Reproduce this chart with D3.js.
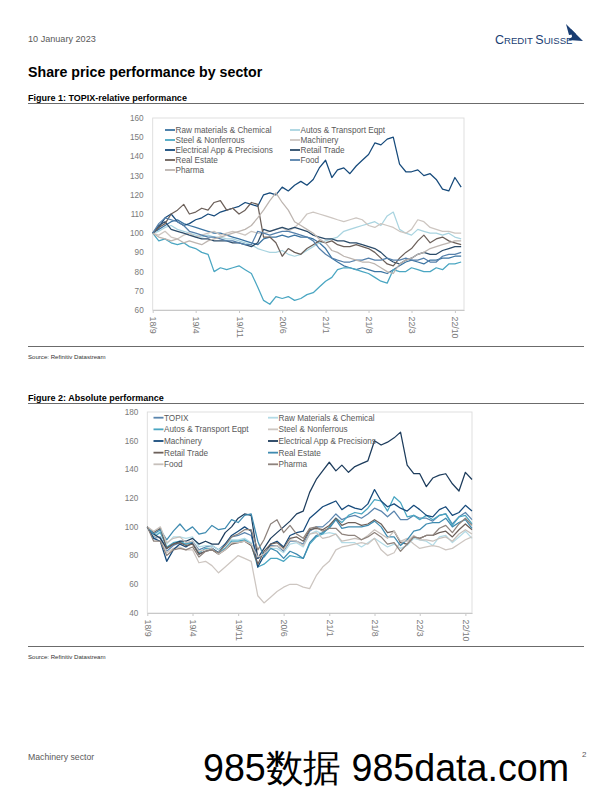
<!DOCTYPE html>
<html><head><meta charset="utf-8">
<script src="https://cdn.jsdelivr.net/npm/d3@7"></script>
<style>
body{margin:0;background:#fff}
svg{display:block}
text{font-family:"Liberation Sans",Arial,Helvetica,sans-serif}
</style></head>
<body><svg id="page" width="612" height="792"></svg>
<script>
// ---------- categories (monthly dates) ----------
const dates = ["2018-09","2018-10","2018-11","2018-12",
"2019-01","2019-02","2019-03","2019-04","2019-05","2019-06","2019-07","2019-08","2019-09","2019-10","2019-11","2019-12",
"2020-01","2020-02","2020-03","2020-04","2020-05","2020-06","2020-07","2020-08","2020-09","2020-10","2020-11","2020-12",
"2021-01","2021-02","2021-03","2021-04","2021-05","2021-06","2021-07","2021-08","2021-09","2021-10","2021-11","2021-12",
"2022-01","2022-02","2022-03","2022-04","2022-05","2022-06","2022-07","2022-08","2022-09","2022-10","2022-11"];
const xTickDates  = ["2018-09","2019-04","2019-11","2020-06","2021-01","2021-08","2022-03","2022-10"];
const xTickLabels = ["18/9","19/4","19/11","20/6","21/1","21/8","22/3","22/10"];

// ---------- Figure 1: TOPIX-relative ----------
const fig1Names = ["Raw materials & Chemical","Autos & Transport Eqpt","Steel & Nonferrous","Machinery",
  "Electrical App & Precisions","Retail Trade","Real Estate","Food","Pharma"];
const relRaw    = [100,102,104,106,107,105,104,103,102,101,100,100,99,98,97,96,95,94,97,98,98,99,98,99,98,98,97,95,92,87,85,83,82,81,82,81,80,80,79,81,83,85,86,85,84,86,86,87,87,88,88];
const relAutos  = [100,101,103,104,102,101,100,99,98,99,98,98,97,97,96,95,94,92,91,90,90,91,89,88,89,91,93,95,96,97,98,101,102,103,104,105,106,104,109,111,102,100,99,102,101,100,100,99,100,98,97];
const relSteel  = [100,96,97,95,94,95,93,92,90,89,80,82,81,82,83,81,79,72,65,63,67,66,67,65,66,68,69,72,75,77,81,82,82,81,80,79,77,75,74,81,80,80,82,81,80,80,82,81,84,84,85];
const relMach   = [100,99,101,98,97,99,100,98,99,100,101,99,100,101,100,99,101,100,100,101,102,103,101,103,106,110,111,110,109,108,107,106,107,108,107,104,103,105,104,103,101,100,102,107,106,103,102,101,101,100,100];
const relElec   = [100,103,108,110,106,104,105,107,108,110,109,111,112,113,114,116,115,114,120,121,120,124,122,125,127,125,128,134,138,129,133,134,131,135,138,141,147,146,149,150,136,132,132,133,130,131,128,123,122,129,124];
const relRetail = [100,104,106,102,101,100,99,98,97,97,96,96,96,95,95,94,93,95,102,101,102,103,102,103,102,101,99,98,97,97,96,96,95,95,94,93,92,90,87,85,84,86,87,89,90,89,89,91,92,93,93];
const relRE     = [100,103,105,110,112,115,110,111,113,112,116,117,112,113,110,112,116,115,98,98,95,88,92,90,89,92,94,96,95,96,94,93,93,94,93,92,90,87,84,83,87,90,92,96,99,95,97,98,96,95,94];
const relFood   = [100,105,108,107,106,104,101,100,99,98,98,97,96,96,95,94,94,101,100,99,100,101,101,100,99,98,96,92,89,87,86,85,85,86,86,87,86,86,87,86,86,87,86,86,87,85,85,88,89,89,90];
const relPharma = [100,98,97,96,97,95,96,95,94,96,97,98,99,100,101,102,104,108,112,117,121,116,112,106,104,102,100,97,95,91,90,88,87,86,85,85,84,82,80,79,84,86,87,89,90,92,93,94,95,96,96];
const fig1Values = [relRaw,relAutos,relSteel,relMach,relElec,relRetail,relRE,relFood,relPharma];
const fig1YTicks = [60,70,80,90,100,110,120,130,140,150,160];

// ---------- Figure 2: Absolute ----------
const fig2Names = ["TOPIX","Raw Materials & Chemical","Autos & Transport Eqpt","Steel & Nonferrous","Machinery",
  "Electrical App & Precisions","Retail Trade","Real Estate","Food","Pharma"];
const absTopix  = [100,92,93,83,87,89,88,90,84,86,87,84,88,93,94,96,94,78,81,87,87,83,90,90,88,97,100,100,104,109,105,107,108,106,109,113,111,107,111,105,105,108,106,106,104,108,109,102,107,110,105];
const absRaw    = [100,94,97,88,93,93,92,93,86,87,87,84,87,91,91,92,89,73,79,85,85,82,88,89,86,95,97,95,96,95,89,89,89,86,89,92,89,86,88,85,87,92,91,90,87,93,94,89,93,97,92];
const absAutos  = [100,93,96,86,89,90,88,89,82,85,85,82,85,90,90,91,88,72,74,78,78,76,80,79,78,88,93,95,100,106,103,108,110,109,113,119,118,111,121,117,107,108,105,108,105,108,109,101,107,108,102];
const absSteel  = [100,94,92,82,85,86,84,84,75,76,73,68,72,76,80,78,76,52,47,51,55,58,60,60,58,57,66,72,76,84,86,87,88,89,88,92,84,80,82,90,92,88,85,86,87,86,84,85,88,91,93];
const absMach   = [100,92,90,76,84,88,86,89,81,83,85,82,88,94,97,100,97,72,80,88,90,86,94,96,97,106,110,114,116,118,112,115,113,112,116,126,118,114,116,113,111,115,112,108,107,112,114,108,110,115,111];
const absElec   = [100,95,92,85,88,90,90,92,88,90,88,88,96,100,106,109,108,78,85,92,96,100,104,109,111,124,133,139,145,139,143,138,142,144,146,160,157,159,162,166,143,137,137,128,134,136,137,130,125,138,133];
const absRetail = [100,96,99,85,88,89,87,88,81,83,84,81,84,88,89,90,87,74,83,88,89,85,92,93,90,98,99,98,101,106,101,103,103,101,102,105,102,96,97,89,88,93,92,94,94,96,97,93,98,102,98];
const absRE     = [100,95,98,91,97,102,97,100,95,96,101,98,99,105,103,108,109,90,79,85,83,78,83,81,78,89,94,96,99,105,99,100,100,100,101,104,100,93,93,87,91,97,98,102,103,103,106,100,103,105,99];
const absFood   = [100,97,100,89,92,93,89,90,83,84,85,81,84,89,89,90,88,79,81,86,87,84,91,90,87,95,96,92,93,95,90,91,92,91,94,98,95,92,97,90,90,94,91,91,90,92,93,90,95,98,95];
const absPharma = [100,90,90,80,84,85,84,86,79,83,84,82,87,93,95,98,98,84,91,102,105,96,101,95,92,99,100,97,99,99,95,94,94,91,93,96,93,88,89,83,88,93,92,94,94,99,101,96,102,106,101];
const fig2Values = [absTopix,absRaw,absAutos,absSteel,absMach,absElec,absRetail,absRE,absFood,absPharma];
const fig2YTicks = [40,60,80,100,120,140,160,180];

// ---------- styles ----------
const fig1Colors = ["#3b74a2","#a9d4e0","#4aa6c2","#cdc6c1","#164a7b","#2b4b69","#6c605a","#5580ab","#bdb5b0"];
const fig2Colors = ["#5a85ae","#b3dbe6","#4aa6c2","#cdc6c1","#164a7b","#1d3c5c","#6c605a","#3f8bb0","#c7c0bb","#8e837d"];

const parse = d3.timeParse("%Y-%m");
const xDates = dates.map(parse);
const svg = d3.select("#page");

// ---------- page furniture ----------
svg.append("text").attr("x",28).attr("y",42).attr("font-size",9.1).attr("fill","#595959").text("10 January 2023");
const logo = svg.append("text").attr("x",495).attr("y",43.5).attr("fill","#1a3e73")
  .attr("font-family","'Liberation Serif',serif");
logo.append("tspan").attr("font-size",12.5).text("C");
logo.append("tspan").attr("font-size",9.6).text("REDIT ");
logo.append("tspan").attr("font-size",12.5).text("S");
logo.append("tspan").attr("font-size",9.6).text("UISSE");
svg.append("path").attr("d","M566,24 L576,34 L569,35 Z").attr("fill","#1a3e73");
svg.append("path").attr("d","M571,29 L583,41 L568,40 L572,37 Z").attr("fill","#1a3e73");

svg.append("text").attr("x",28).attr("y",77).attr("font-size",14.2).attr("font-weight","bold").attr("fill","#000")
  .text("Share price performance by sector");

function rule(y){
  svg.append("line").attr("x1",28).attr("x2",584).attr("y1",y).attr("y2",y).attr("stroke","#6b6b6b").attr("stroke-width",1);
}
function figTitle(txt,y){
  svg.append("text").attr("x",28).attr("y",y).attr("font-size",9).attr("font-weight","bold").attr("fill","#000").text(txt);
}
function source(y){
  svg.append("text").attr("x",28).attr("y",y).attr("font-size",6.1).attr("fill","#333").text("Source: Refinitiv Datastream");
}

figTitle("Figure 1: TOPIX-relative performance",100.5);
rule(103.5);
rule(346.5);
source(359);
figTitle("Figure 2: Absolute performance",400.5);
rule(403.5);
rule(646.5);
source(659);

svg.append("text").attr("x",28).attr("y",760).attr("font-size",8.7).attr("fill","#595959").text("Machinery sector");
svg.append("text").attr("x",203).attr("y",781).attr("font-size",38)
  .attr("font-family","'Noto Sans CJK SC','Liberation Sans',sans-serif").attr("fill","#000")
  .attr("textLength",366).attr("lengthAdjust","spacingAndGlyphs").text("985数据 985data.com");
svg.append("text").attr("x",582).attr("y",757).attr("font-size",8).attr("fill","#595959").text("2");

// ---------- chart builder ----------
function chart(o){
  const g = svg.append("g");
  const x = d3.scaleTime().domain([parse("2018-09"), o.xEnd]).range([o.l, o.r]);
  const y = d3.scaleLinear().domain(o.yDom).range([o.b, o.t]);

  g.append("rect").attr("x",o.l).attr("y",o.t).attr("width",o.r-o.l).attr("height",o.b-o.t)
    .attr("fill","none").attr("stroke","#dcdcdc").attr("stroke-width",0.9);

  g.selectAll("text.yl").data(o.yTicks).join("text").attr("class","yl")
    .attr("x",o.l-o.yLabOff).attr("y",d=>y(d)+2.9).attr("text-anchor","end")
    .attr("font-size",8.2).attr("fill","#7a7a7a").text(d=>d);

  const xa = g.append("g").attr("transform",`translate(0,${o.b})`)
    .call(d3.axisBottom(x).tickValues(xTickDates.map(parse)).tickFormat((d,i)=>xTickLabels[i]).tickSize(3).tickSizeOuter(0));
  xa.select(".domain").attr("stroke","#c8c8c8");
  xa.selectAll(".tick line").attr("stroke","#c8c8c8");
  xa.selectAll(".tick text").attr("transform","rotate(90)").attr("text-anchor","start")
    .attr("x",6.5).attr("y",0).attr("dy","0.33em").attr("font-size",8.8).attr("fill","#7a7a7a")
    .attr("font-family","'Liberation Sans',Arial,sans-serif");

  const line = d3.line().x((d,i)=>x(xDates[i])).y(d=>y(d));
  g.selectAll("path.series").data(o.values).join("path").attr("class","series")
    .attr("d",line).attr("fill","none").attr("stroke",(d,i)=>o.colors[i])
    .attr("stroke-width",1.25).attr("stroke-linejoin","round");

  // legend (row-major, two columns)
  const lg = g.append("g");
  o.names.forEach((nm,i)=>{
    const col = i%2, row = Math.floor(i/2);
    const lx = o.leg.x[col], ly = o.leg.y0 + row*o.leg.dy;
    lg.append("line").attr("x1",lx).attr("x2",lx+10).attr("y1",ly).attr("y2",ly)
      .attr("stroke",o.colors[i]).attr("stroke-width",1.8);
    lg.append("text").attr("x",lx+10.5).attr("y",ly+2.9).attr("font-size",8.2).attr("fill","#595959").text(nm);
  });
}

chart({l:152.7,r:464,t:118,b:310,yDom:[60,160],yTicks:fig1YTicks,yLabOff:9,
  xEnd:new Date(2022,10,15),values:fig1Values,colors:fig1Colors,names:fig1Names,
  leg:{x:[165,290],y0:130,dy:10}});
chart({l:147.3,r:472,t:412,b:613,yDom:[40,180],yTicks:fig2YTicks,yLabOff:9,
  xEnd:new Date(2022,10,1),values:fig2Values,colors:fig2Colors,names:fig2Names,
  leg:{x:[153.5,268],y0:417.7,dy:11.65}});
</script>
</body></html>
